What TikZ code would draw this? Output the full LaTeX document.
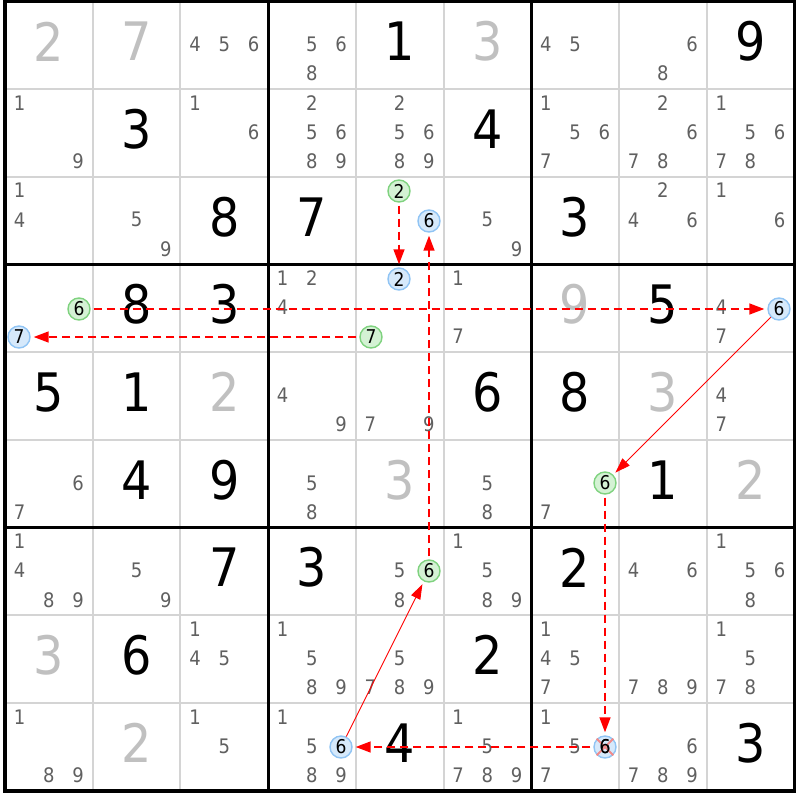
\documentclass[tikz,border=0pt]{standalone}
\usepackage{fontspec}
\setmainfont{DejaVu Sans Condensed}
\usetikzlibrary{arrows.meta}
\definecolor{thinline}{HTML}{D4D4D4}
\definecolor{candc}{HTML}{606060}
\definecolor{placedc}{HTML}{C0C0C0}
\definecolor{gfill}{HTML}{D4F2D4}
\definecolor{gdraw}{HTML}{7FD27F}
\definecolor{bfill}{HTML}{D6E9FB}
\definecolor{bdraw}{HTML}{90C4F4}
\definecolor{chainred}{HTML}{FF0000}
\definecolor{xred}{HTML}{F08A8A}
\tikzset{
  givend/.style={inner sep=0pt, text=black, font=\fontsize{53}{53}\selectfont},
  placedd/.style={inner sep=0pt, text=placedc, font=\fontsize{53}{53}\selectfont},
  candd/.style={inner sep=0pt, text=candc, font=\fontsize{20}{20}\selectfont},
  circg/.style={circle, inner sep=0pt, minimum size=22pt, fill=gfill, draw=gdraw, line width=1.4pt, text=black, font=\fontsize{19}{19}\selectfont},
  circb/.style={circle, inner sep=0pt, minimum size=22pt, fill=bfill, draw=bdraw, line width=1.4pt, text=black, font=\fontsize{19}{19}\selectfont},
  circtext/.style={inner sep=0pt, text=black, font=\fontsize{19}{19}\selectfont},
  dashar/.style={draw=chainred, line width=1.5pt, dash pattern=on 8pt off 5pt, -{Triangle[length=15pt,width=11pt]}, shorten <=3pt, shorten >=3pt},
  solidar/.style={draw=chainred, line width=0.9pt, -{Triangle[length=15pt,width=10pt]}, shorten >=3pt},
}
\def\cs{87.7}
\newcommand\Dig[4]{\node[#4] (g#1#2) at ({5+(#2-0.5)*\cs},{1.5+(#1-0.5)*\cs-4}) {#3};}
\newcommand\Cands[3]{\foreach \d in {#3}{\node[candd] (k#1#2\d) at ({5+(#2-1)*\cs+(mod(\d-1,3)+0.5)*\cs/3},{1.5+(#1-1)*\cs+(floor((\d-1)/3)+0.5)*\cs/3-1}) {\d};}}
\newcommand\Circ[4]{\node[circ#4] (m#1#2#3) at ({2*round((4+(#2-1)*\cs+(mod(#3-1,3)+0.5)*\cs/3)/2)+1},{2*round((0.5+(#1-1)*\cs+(floor((#3-1)/3)+0.5)*\cs/3)/2)+1}) {#3};}
\begin{document}
\begin{tikzpicture}[x=1pt,y=-1pt]
\useasboundingbox (0,0) rectangle (800,800);
\fill[white] (0,0) rectangle (800,800);
% thin lines
\foreach \i in {1,2,4,5,7,8}{
  \draw[thinline, line width=2pt] ({5+\i*\cs},1.5) -- ({5+\i*\cs},{1.5+9*\cs});
  \draw[thinline, line width=2pt] (5,{1.5+\i*\cs}) -- ({5+9*\cs},{1.5+\i*\cs});
}
\foreach \i in {3,6}{
  \draw[black, line width=3pt] ({5+\i*\cs},1.5) -- ({5+\i*\cs},{1.5+9*\cs});
  \draw[black, line width=3pt] (5,{1.5+\i*\cs}) -- ({5+9*\cs},{1.5+\i*\cs});
}
\draw[black, line width=3.5pt] (5,1.5) rectangle ({5+9*\cs},{1.5+9*\cs});
% row 1
\Dig{1}{1}{2}{placedd} \Dig{1}{2}{7}{placedd} \Cands{1}{3}{4,5,6} \Cands{1}{4}{5,6,8}
\Dig{1}{5}{1}{givend} \Dig{1}{6}{3}{placedd} \Cands{1}{7}{4,5} \Cands{1}{8}{6,8} \Dig{1}{9}{9}{givend}
% row 2
\Cands{2}{1}{1,9} \Dig{2}{2}{3}{givend} \Cands{2}{3}{1,6} \Cands{2}{4}{2,5,6,8,9} \Cands{2}{5}{2,5,6,8,9}
\Dig{2}{6}{4}{givend} \Cands{2}{7}{1,5,6,7} \Cands{2}{8}{2,6,7,8} \Cands{2}{9}{1,5,6,7,8}
% row 3
\Cands{3}{1}{1,4} \Cands{3}{2}{5,9} \Dig{3}{3}{8}{givend} \Dig{3}{4}{7}{givend}
\Circ{3}{5}{2}{g} \Circ{3}{5}{6}{b} \Cands{3}{6}{5,9} \Dig{3}{7}{3}{givend} \Cands{3}{8}{2,4,6} \Cands{3}{9}{1,6}
% row 4
\Circ{4}{1}{6}{g} \Circ{4}{1}{7}{b} \Dig{4}{2}{8}{givend} \Dig{4}{3}{3}{givend} \Cands{4}{4}{1,2,4}
\Circ{4}{5}{2}{b} \Circ{4}{5}{7}{g} \Cands{4}{6}{1,7} \Dig{4}{7}{9}{placedd} \Dig{4}{8}{5}{givend}
\Cands{4}{9}{4,7} \Circ{4}{9}{6}{b}
% row 5
\Dig{5}{1}{5}{givend} \Dig{5}{2}{1}{givend} \Dig{5}{3}{2}{placedd} \Cands{5}{4}{4,9} \Cands{5}{5}{7,9}
\Dig{5}{6}{6}{givend} \Dig{5}{7}{8}{givend} \Dig{5}{8}{3}{placedd} \Cands{5}{9}{4,7}
% row 6
\Cands{6}{1}{6,7} \Dig{6}{2}{4}{givend} \Dig{6}{3}{9}{givend} \Cands{6}{4}{5,8} \Dig{6}{5}{3}{placedd}
\Cands{6}{6}{5,8} \Circ{6}{7}{6}{g} \Cands{6}{7}{7} \Dig{6}{8}{1}{givend} \Dig{6}{9}{2}{placedd}
% row 7
\Cands{7}{1}{1,4,8,9} \Cands{7}{2}{5,9} \Dig{7}{3}{7}{givend} \Dig{7}{4}{3}{givend} \Cands{7}{5}{5,8}
\Circ{7}{5}{6}{g} \Cands{7}{6}{1,5,8,9} \Dig{7}{7}{2}{givend} \Cands{7}{8}{4,6} \Cands{7}{9}{1,5,6,8}
% row 8
\Dig{8}{1}{3}{placedd} \Dig{8}{2}{6}{givend} \Cands{8}{3}{1,4,5} \Cands{8}{4}{1,5,8,9} \Cands{8}{5}{5,7,8,9}
\Dig{8}{6}{2}{givend} \Cands{8}{7}{1,4,5,7} \Cands{8}{8}{7,8,9} \Cands{8}{9}{1,5,7,8}
% row 9
\Cands{9}{1}{1,8,9} \Dig{9}{2}{2}{placedd} \Cands{9}{3}{1,5} \Cands{9}{4}{1,5,8,9} \Circ{9}{4}{6}{b}
\Dig{9}{5}{4}{givend} \Cands{9}{6}{1,5,7,8,9} \Cands{9}{7}{1,5,7} \Cands{9}{8}{6,7,8,9} \Dig{9}{9}{3}{givend}
\Circ{9}{7}{6}{b}
% elimination cross
\draw[xred, line width=1.8pt] (m976.45) -- (m976.225) (m976.135) -- (m976.315);
\node[circtext] (x976) at (m976.center) {6};
% chains
\draw[dashar] (m352) -- (m452);
\draw[dashar] (m756) -- (m356);
\draw[dashar] (m416) -- (m496);
\draw[dashar] (m457) -- (m417);
\draw[solidar] (m496) -- (m676);
\draw[dashar] (m676) -- (m976);
\draw[dashar] (m976) -- (m946);
\draw[solidar] (m946) -- (m756);
\end{tikzpicture}
\end{document}
